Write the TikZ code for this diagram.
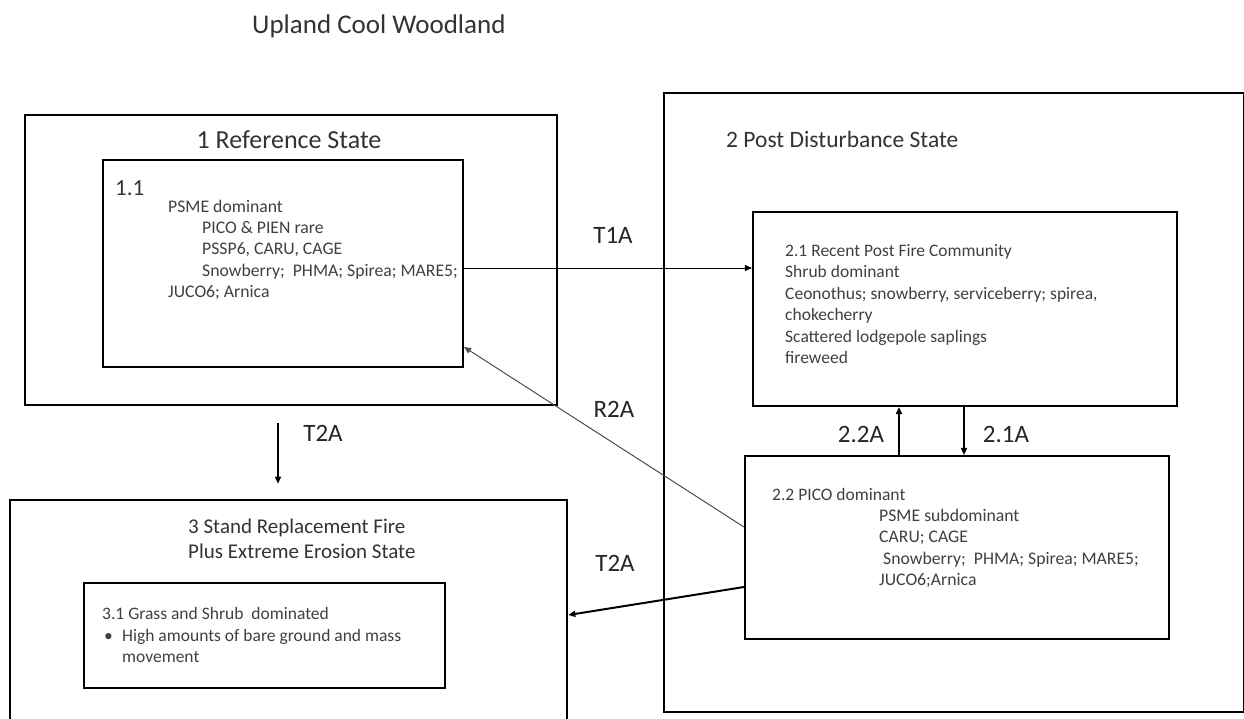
\documentclass[tikz,border=0pt]{standalone}
\usepackage{fontspec}
\setmainfont{Carlito}
\usetikzlibrary{arrows.meta}
\begin{document}
\begin{tikzpicture}[x=1pt,y=-1pt,
  outerbox/.style={draw=black, line width=2.6pt, inner sep=0pt},
  innerbox/.style={draw=black, line width=2.1pt, inner sep=0pt},
  body/.style={inner sep=0pt, anchor=base west, text=black!75, font=\fontsize{17.7}{21}\selectfont},
  small/.style={inner sep=0pt, anchor=base west, text=black!75, font=\fontsize{17.5}{21}\selectfont},
  heading/.style={inner sep=0pt, text=black!80},
  lab/.style={inner sep=0pt, anchor=base, text=black!85, font=\fontsize{25}{30}\selectfont},
  tip/.style={-{Triangle[length=7pt,width=6pt]}},
]
\useasboundingbox[fill=white] (0,0) rectangle (1244,718);

% title
\node[heading, anchor=base west, font=\fontsize{27}{32}\selectfont] (title) at (252,33) {Upland Cool Woodland};

% state boxes
\node[outerbox, minimum width=532pt, minimum height=290pt] (B1) at (291,260) {};
\node[innerbox, minimum width=360pt, minimum height=207pt] (B11) at (283,263.5) {};
\node[outerbox, minimum width=580pt, minimum height=619pt] (B2) at (954,402.5) {};
\node[innerbox, minimum width=424pt, minimum height=194pt] (B21) at (965,309) {};
\node[innerbox, minimum width=424pt, minimum height=183pt] (B22) at (957,547.5) {};
\node[outerbox, minimum width=557pt, minimum height=240pt] (B3) at (288.5,620) {};
\node[innerbox, minimum width=361pt, minimum height=105pt] (B31) at (264.5,635.5) {};

% headings
\node[heading, anchor=base, font=\fontsize{26}{30}\selectfont] (h1) at (289,148) {1 Reference State};
\node[heading, anchor=base west, font=\fontsize{23.5}{28}\selectfont] (h2) at (726,147) {2 Post Disturbance State};
\node[heading, anchor=base west, font=\fontsize{21}{26}\selectfont] (h3a) at (188,533) {3 Stand Replacement Fire};
\node[heading, anchor=base west, font=\fontsize{21}{26}\selectfont] (h3b) at (188,558) {Plus Extreme Erosion State};

% 1.1 text
\node[heading, anchor=base west, font=\fontsize{23}{28}\selectfont] (n11) at (115,195) {1.1};
\node[body] (t11a) at (168,212) {PSME dominant};
\node[body] (t11b) at (202,233) {PICO \& PIEN rare};
\node[body] (t11c) at (202,254.5) {PSSP6, CARU, CAGE};
\node[body] (t11d) at (202,276) {Snowberry;\ \ PHMA; Spirea; MARE5;};
\node[body] (t11e) at (168,297.5) {JUCO6; Arnica};

% 2.1 text
\node[small] (t21a) at (785,256) {2.1 Recent Post Fire Community};
\node[small] (t21b) at (785,277.5) {Shrub dominant};
\node[small] (t21c) at (785,299) {Ceonothus; snowberry, serviceberry; spirea,};
\node[small] (t21d) at (785,320.5) {chokecherry};
\node[small] (t21e) at (785,342) {Scattered lodgepole saplings};
\node[small] (t21f) at (785,363.5) {fireweed};

% 2.2 text
\node[small] (t22a) at (772,500) {2.2 PICO dominant};
\node[body] (t22b) at (879,521) {PSME\ subdominant};
\node[body] (t22c) at (879,542.5) {CARU; CAGE};
\node[body] (t22d) at (883,564) {Snowberry;\ \ PHMA; Spirea; MARE5;};
\node[body] (t22e) at (879,585.5) {JUCO6;Arnica};

% 3.1 text
\node[small] (t31a) at (102,619) {3.1 Grass and Shrub\ \ dominated};
\node[small] (t31b) at (104,641) {\textbullet};
\node[small] (t31c) at (122,641) {High amounts of bare ground and mass};
\node[small] (t31d) at (122,662) {movement};

% connectors
\coordinate (x22) at (899,0);
\coordinate (x21) at (964,0);
\draw[tip, line width=1pt] ([yshift=-4.5pt]B11.east) -- ([yshift=41pt]B21.west);
\draw[tip, line width=1pt, draw=black!70] ([yshift=20.5pt]B22.west) -- ([yshift=-83.5pt]B11.east);
\draw[tip, line width=2pt] ([yshift=-39.5pt]B22.west) -- ([yshift=5pt]B3.east);
\draw[tip, line width=1.5pt] ([xshift=-13pt,yshift=-17pt]B1.south) -- ([xshift=-10.5pt,yshift=15pt]B3.north);
\draw[tip, line width=2.5pt] (B22.north -| x22) -- (B21.south -| x22);
\draw[tip, line width=1.5pt] (B21.south -| x21) -- (B22.north -| x21);

% connector labels
\node[lab] (lT1A) at (613,243) {T1A};
\node[lab] (lR2A) at (614,417) {R2A};
\node[lab] (lT2Aa) at (323,441) {T2A};
\node[lab] (lT2Ab) at (615,571) {T2A};
\node[lab] (l22A) at (861,442) {2.2A};
\node[lab] (l21A) at (1006,442) {2.1A};
\end{tikzpicture}
\end{document}
